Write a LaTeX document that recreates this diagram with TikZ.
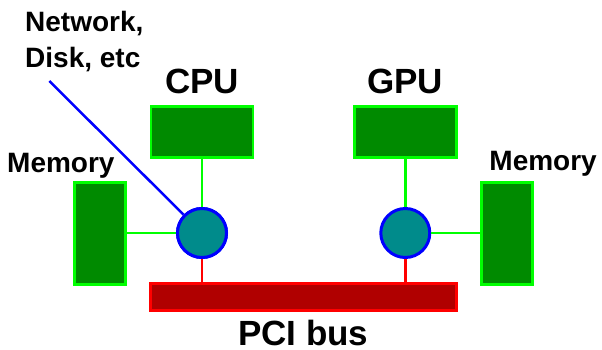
\documentclass[tikz,border=0pt]{standalone}
\usepackage{fontspec}
\setmainfont{Liberation Sans}
\definecolor{boxfill}{HTML}{008A00}
\definecolor{boxline}{HTML}{00FF00}
\definecolor{hubfill}{HTML}{008B8B}
\definecolor{hubline}{HTML}{0000FF}
\definecolor{busfill}{HTML}{B00000}
\definecolor{busline}{HTML}{FF0000}
\begin{document}
\begin{tikzpicture}[x=1pt,y=-1pt,
  unit/.style={draw=boxline,fill=boxfill,line width=2.5pt,inner sep=0pt},
  hub/.style={circle,draw=hubline,fill=hubfill,line width=3pt,minimum size=49pt,inner sep=0pt},
  bus/.style={draw=busline,fill=busfill,line width=2.5pt,inner sep=0pt},
  gline/.style={draw=boxline,line width=2.5pt},
  rline/.style={draw=busline,line width=2.5pt},
  bigl/.style={font=\fontsize{35}{40}\selectfont\bfseries,inner sep=0pt},
  smalll/.style={font=\fontsize{28}{36}\selectfont\bfseries,inner sep=0pt}]
\useasboundingbox (0,0) rectangle (602,350);
% boxes
\node[unit,minimum width=102pt,minimum height=51pt] (cpu) at (202,131.8) {};
\node[unit,minimum width=102pt,minimum height=51pt] (gpu) at (405.3,131.8) {};
\node[unit,minimum width=51pt,minimum height=102pt] (meml) at (100,233.7) {};
\node[unit,minimum width=51pt,minimum height=102pt] (memr) at (507,233.7) {};
\node[bus,minimum width=306pt,minimum height=27pt] (pci) at (303.3,297.2) {};
% hubs
\node[hub] (hl) at (202,233) {};
\node[hub] (hr) at (405.3,233) {};
% connectors
\draw[gline] (cpu.south) -- (hl.north);
\draw[gline] (gpu.south) -- (hr.north);
\draw[gline] (meml.east |- hl) -- (hl.west);
\draw[gline] (hr.east) -- (memr.west |- hr);
\draw[rline] (hl.south) -- (hl |- pci.north);
\draw[rline] (hr.south) -- (hr |- pci.north);
\coordinate (net) at (49.3,81);
\draw[hubline,line width=2.5pt] (net) -- (hl);
\node[hub] at (hl) {};
% labels
\node[bigl,anchor=base] (cpul) at (202,93.3) {CPU};
\node[bigl,anchor=base] (gpul) at (405.3,93.3) {GPU};
\node[bigl,anchor=base] (pcil) at (303.3,345) {PCI bus};
\node[smalll,anchor=base west] (memll) at (7,172.5) {Memory};
\node[smalll,anchor=base east] (memrl) at (597,170) {Memory};
\node[smalll,anchor=north west,align=left] (netl) at (25,11.5) {Network,\\Disk, etc};
\end{tikzpicture}
\end{document}
